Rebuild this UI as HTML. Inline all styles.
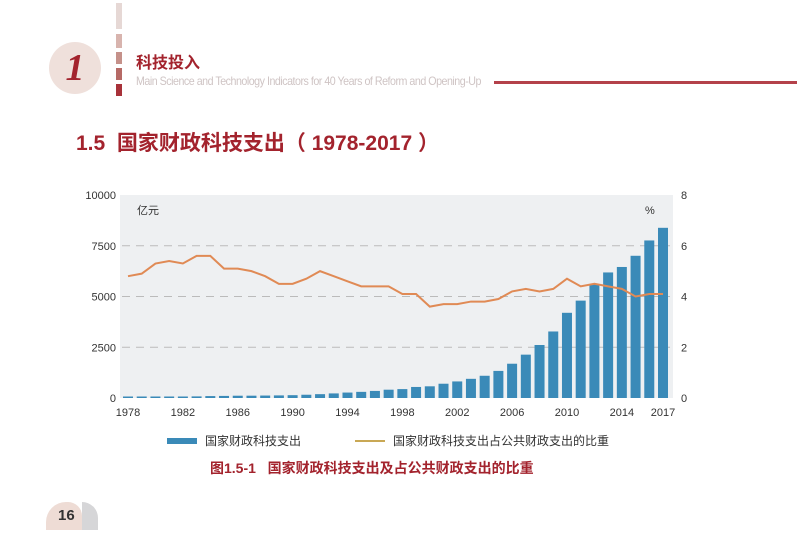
<!DOCTYPE html>
<html><head><meta charset="utf-8"><style>
body{margin:0;width:797px;height:551px;background:#fff;overflow:hidden;position:relative;font-family:"Liberation Sans","Noto Sans CJK SC",sans-serif}
.a{position:absolute}
</style></head><body>
<div class="a" style="left:116px;top:3px;width:6px;">
<div style="height:26px;background:#e6d8d5;margin-bottom:5px"></div>
<div style="height:14px;background:#d8b4ae;margin-bottom:4px"></div>
<div style="height:12px;background:#c5918a;margin-bottom:4px"></div>
<div style="height:12px;background:#b66a66;margin-bottom:4px"></div>
<div style="height:12px;background:#a8323a"></div>
</div>
<div class="a" style="left:49px;top:42px;width:52px;height:52px;border-radius:50%;background:#efe0db;color:#a3232d;font:italic bold 38px 'Liberation Serif',serif;text-align:center;line-height:52px">1</div>
<div class="a" style="left:136px;top:49px;font-size:16px;font-weight:bold;color:#a3232d">科技投入</div>
<div class="a" style="left:136px;top:74px;font-size:12px;color:#cfc4c4;letter-spacing:-0.55px;white-space:nowrap;transform:scaleX(0.89);transform-origin:left">Main Science and Technology Indicators for 40 Years of Reform and Opening-Up</div>
<div class="a" style="left:494px;top:81px;width:303px;height:3px;background:#b4414a"></div>
<div class="a" style="left:76px;top:127px;font-size:21px;font-weight:bold;color:#a3232d;white-space:nowrap">1.5&nbsp; 国家财政科技支出（ 1978-2017 ）</div>

<svg class="a" style="left:0;top:0" width="797" height="551">
<rect x="120" y="195" width="553" height="203" fill="#eef0f2"/>
<g id="grid"></g><g id="bars"></g><g id="axes"></g>
<polyline id="line" fill="none" stroke="#e08a55" stroke-width="2"/>
<text x="137" y="214" font-size="11" fill="#333">亿元</text>
<text x="645" y="214" font-size="11" fill="#333">%</text>
</svg>

<div class="a" style="left:167px;top:432px;font-size:12px;color:#333;display:flex;align-items:center"><span style="width:30px;height:6px;background:#3a8ab8;margin-right:8px;display:inline-block"></span>国家财政科技支出</div>
<div class="a" style="left:355px;top:432px;font-size:12px;color:#333;display:flex;align-items:center"><span style="width:30px;height:2px;background:#c9a855;margin-right:8px;display:inline-block"></span>国家财政科技支出占公共财政支出的比重</div>
<div class="a" style="left:210px;top:458px;font-size:14px;font-weight:bold;color:#a3232d">图1.5-1&nbsp;&nbsp; 国家财政科技支出及占公共财政支出的比重</div>
<div class="a" style="left:46px;top:502px;width:52px;height:28px;">
<div style="position:absolute;left:0;top:0;width:36px;height:28px;background:#eedcd5;border-radius:20px 14px 0 0"></div>
<div style="position:absolute;left:36px;top:0;width:16px;height:28px;background:#d6d6d8;border-radius:0 16px 0 0"></div>
<div style="position:absolute;left:12px;top:5px;font-size:15px;font-weight:bold;color:#333">16</div>
</div>
<script>
const years=[1978,1979,1980,1981,1982,1983,1984,1985,1986,1987,1988,1989,1990,1991,1992,1993,1994,1995,1996,1997,1998,1999,2000,2001,2002,2003,2004,2005,2006,2007,2008,2009,2010,2011,2012,2013,2014,2015,2016,2017];
const spend=[52.9,62.3,64.6,61.6,65.3,79.1,94.7,102.6,112.6,113.8,121.1,127.9,139.1,160.7,189.3,225.6,268.3,302.4,348.6,408.9,438.6,543.9,575.6,703.3,816.2,944.6,1095.3,1334.9,1688.5,2135.7,2611,3276.8,4196.7,4797,5600.1,6184.9,6454.5,7005.8,7760.7,8383.6];
const share=[4.8,4.9,5.3,5.4,5.3,5.6,5.6,5.1,5.1,5.0,4.8,4.5,4.5,4.7,5.0,4.8,4.6,4.4,4.4,4.4,4.1,4.1,3.6,3.7,3.7,3.8,3.8,3.9,4.2,4.3,4.2,4.3,4.7,4.4,4.5,4.4,4.3,4.0,4.1,4.1];
const leftTicks=[0,2500,5000,7500,10000];
const rightTicks=[0,2,4,6,8];
const xLabels=[1978,1982,1986,1990,1994,1998,2002,2006,2010,2014,2017];
const NS='http://www.w3.org/2000/svg';
const x0=128,x1=663,yTop=195,yBot=398;
const xs=i=>x0+(x1-x0)*i/(years.length-1);
const yL=v=>yBot-(yBot-yTop)*v/10000;
const yR=v=>yBot-(yBot-yTop)*v/8;
function mk(t,a,p){const e=document.createElementNS(NS,t);for(const k in a)e.setAttribute(k,a[k]);p.appendChild(e);return e;}
const grid=document.getElementById('grid'),bars=document.getElementById('bars'),axes=document.getElementById('axes');
leftTicks.forEach(v=>{
 if(v>0&&v<10000){const g=mk('line',{x1:122,x2:670,y1:yL(v),y2:yL(v),stroke:'#bbb','stroke-dasharray':'8,6'},grid);
 
 }
 const t=mk('text',{x:116,y:yL(v)+4,'font-size':11,'text-anchor':'end',fill:'#333'},axes);t.textContent=v;
 
 
});
rightTicks.forEach(v=>{const t=mk('text',{x:681,y:yR(v)+4,'font-size':11,fill:'#333'},axes);t.textContent=v;
 
 });
xLabels.forEach(y=>{const i=years.indexOf(y);const t=mk('text',{x:xs(i),y:416,'font-size':11,'text-anchor':'middle',fill:'#333'},axes);t.textContent=y;
 
 });
spend.forEach((v,i)=>{const h=Math.max(yBot-yL(v),1.5);const r=mk('rect',{x:xs(i)-5,y:yBot-h,width:10,height:h,fill:'#3a8ab8'},bars);
 
 });
document.getElementById('line').setAttribute('points',share.map((v,i)=>xs(i)+','+yR(v)).join(' '));
</script>
</body></html>
